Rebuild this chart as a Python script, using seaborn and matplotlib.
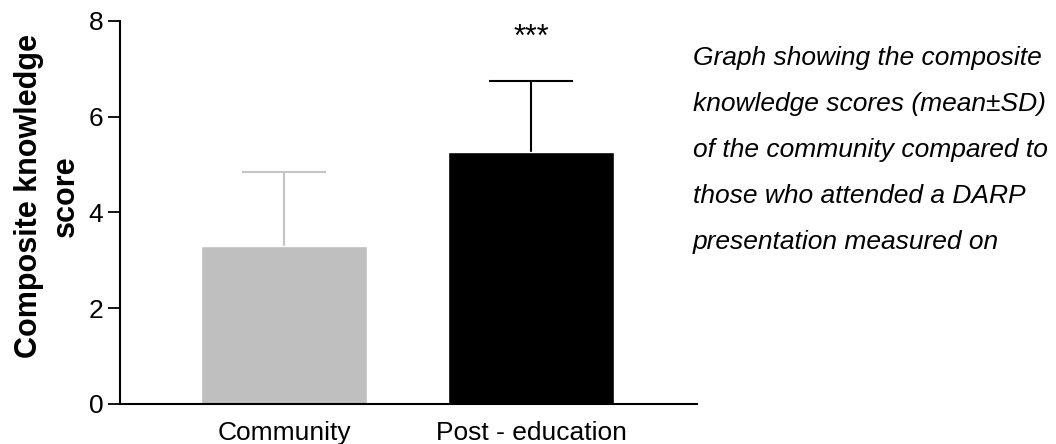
import matplotlib

matplotlib.use("Agg")
import matplotlib.pyplot as plt
import pandas as pd
import seaborn as sns

sns.set_theme(style="ticks")
plt.rcParams["font.family"] = ["Liberation Sans", "DejaVu Sans"]
plt.rcParams["text.color"] = "black"
plt.rcParams["axes.labelcolor"] = "black"
plt.rcParams["xtick.color"] = "black"
plt.rcParams["ytick.color"] = "black"

groups = ["Community", "Post - education"]
means = [3.30, 5.25]
sds = [1.55, 1.49]
bar_colors = ["#bfbfbf", "#000000"]
err_colors = ["#c4c4c4", "#000000"]
significance = "***"
caption = ("Graph showing the composite\n"
           "knowledge scores (mean\u00b1SD)\n"
           "of the community compared to\n"
           "those who attended a DARP\n"
           "presentation measured on")

df = pd.DataFrame({"group": groups, "mean": means, "sd": sds})

fig = plt.figure(figsize=(10.56, 4.44), dpi=100)
ax = fig.add_axes([0.1136, 0.0901, 0.5464, 0.8633])

sns.barplot(data=df, x="group", y="mean", hue="group", palette=bar_colors,
            width=0.673, errorbar=None, legend=False, saturation=1, ax=ax)
for p in ax.patches:
    p.set_zorder(2)

# upper-only SD bars: drop the lower cap, keep the stem behind the bar
for i, (m, s) in enumerate(zip(means, sds)):
    eb = ax.errorbar(i, m, yerr=[[0], [s]], fmt="none", ecolor=err_colors[i],
                     elinewidth=1.5, capsize=30, capthick=1.5, zorder=1)
    eb[1][0].remove()

ax.text(1, means[1] + sds[1] + 0.9, significance, ha="center", va="center",
        fontsize=22)

ax.set_xlim(-0.666, 1.673)
ax.set_ylim(0, 8)
ax.set_yticks([0, 2, 4, 6, 8])
ax.set_xlabel("")
ax.set_ylabel("Composite knowledge\nscore", fontsize=22, fontweight="bold",
              linespacing=1.3)
ax.yaxis.set_label_coords(-0.068, 0.543)
ax.tick_params(axis="y", labelsize=19, length=9, width=1.3, pad=3)
ax.tick_params(axis="x", labelsize=19, length=0, pad=12)
for side in ["top", "right"]:
    ax.spines[side].set_visible(False)
for side in ["left", "bottom"]:
    ax.spines[side].set_linewidth(1.5)
    ax.spines[side].set_color("black")

fig.text(0.656, 0.896, caption, ha="left", va="top", fontsize=19,
         style="italic", linespacing=2.15)

fig.savefig("out.png", dpi=100)
